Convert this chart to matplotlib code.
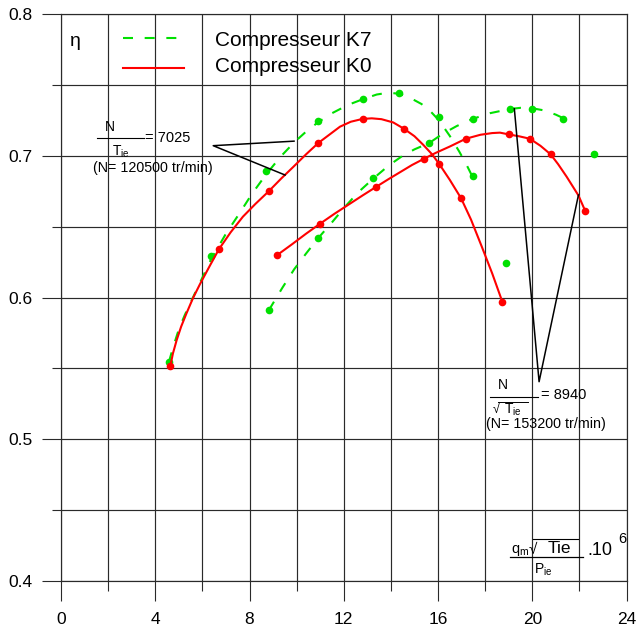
import matplotlib
matplotlib.use('Agg')
import matplotlib.pyplot as plt
from matplotlib.lines import Line2D
from matplotlib.ticker import MultipleLocator

plt.rcParams['font.family'] = ['Liberation Sans', 'DejaVu Sans']
plt.rcParams['mathtext.fontset'] = 'custom'
plt.rcParams['mathtext.rm'] = 'Liberation Sans'
plt.rcParams['mathtext.it'] = 'Liberation Sans'

# ---------------- data ----------------
# measured points
k7_a_x = [4.58, 6.37, 8.69, 10.90, 12.83, 14.36, 16.04, 17.47, 18.87]
k7_a_y = [0.5545, 0.629, 0.6895, 0.7245, 0.740, 0.744, 0.727, 0.686, 0.624]
k7_b_x = [8.82, 10.92, 13.26, 15.63, 17.47, 19.06, 20.00, 21.32, 22.62]
k7_b_y = [0.591, 0.642, 0.684, 0.709, 0.726, 0.733, 0.733, 0.726, 0.701]
k0_a_x = [4.64, 6.70, 8.82, 10.92, 12.80, 14.56, 16.06, 16.98, 18.73]
k0_a_y = [0.5517, 0.634, 0.675, 0.709, 0.726, 0.719, 0.694, 0.670, 0.597]
k0_b_x = [9.18, 10.99, 13.37, 15.42, 17.18, 19.02, 19.90, 20.78, 22.25]
k0_b_y = [0.630, 0.652, 0.678, 0.698, 0.712, 0.715, 0.712, 0.701, 0.661]

# drawn curves
k0_a_cx = [4.64, 4.75, 4.91, 5.1, 5.33, 5.6, 5.9, 6.32, 6.7, 7.2, 7.72, 8.25,
           8.82, 9.35, 9.85, 10.4, 10.92, 11.4, 11.84, 12.3, 12.8, 13.19, 13.6,
           14.1, 14.56, 15.0, 15.38, 15.75, 16.06, 16.5, 16.98, 17.4, 17.86,
           18.3, 18.73]
k0_a_cy = [0.5517, 0.5605, 0.570, 0.5795, 0.589, 0.5995, 0.6095, 0.6225, 0.634,
           0.646, 0.657, 0.666, 0.675, 0.684, 0.692, 0.701, 0.709, 0.715, 0.7205,
           0.724, 0.726, 0.7264, 0.7258, 0.7235, 0.719, 0.7138, 0.7076, 0.701,
           0.694, 0.683, 0.670, 0.655, 0.6358, 0.617, 0.597]
k0_b_cx = [9.18, 9.8, 10.4, 10.99, 11.6, 12.2, 12.8, 13.37, 13.9, 14.4, 14.9,
           15.42, 15.9, 16.5, 17.18, 17.8, 18.3, 18.63, 19.02, 19.45, 19.9, 20.35,
           20.78, 21.1, 21.46, 21.96, 22.25]
k0_b_cy = [0.630, 0.6375, 0.645, 0.652, 0.659, 0.6655, 0.672, 0.678, 0.6835,
           0.6885, 0.6935, 0.698, 0.702, 0.7065, 0.712, 0.7148, 0.716, 0.7163,
           0.715, 0.7137, 0.712, 0.707, 0.701, 0.694, 0.6852, 0.672, 0.661]
k7_a_cx = [4.58, 4.75, 5.0, 5.25, 5.5, 5.9, 6.37, 7.0, 7.6, 8.1, 8.69, 9.3, 9.9,
           10.4, 10.9, 11.5, 12.2, 12.83, 13.4, 13.9, 14.36, 14.8, 15.3, 15.7,
           16.04, 16.5, 16.9, 17.2, 17.47]
k7_a_cy = [0.5545, 0.5645, 0.5775, 0.5875, 0.5965, 0.6105, 0.627, 0.645, 0.660,
           0.673, 0.6865, 0.699, 0.7095, 0.717, 0.7235, 0.730, 0.736, 0.740,
           0.7432, 0.7445, 0.7437, 0.741, 0.7365, 0.731, 0.725, 0.714, 0.703,
           0.694, 0.685]
k7_b_cx = [8.82, 9.4, 9.9, 10.4, 10.92, 11.5, 12.0, 12.6, 13.26, 13.9, 14.5,
           15.0, 15.63, 16.2, 16.8, 17.47, 18.2, 19.06, 19.5, 20.0, 20.5, 21.0,
           21.32]
k7_b_cy = [0.591, 0.607, 0.620, 0.631, 0.642, 0.653, 0.663, 0.674, 0.684, 0.693,
           0.700, 0.7045, 0.709, 0.7155, 0.721, 0.726, 0.730, 0.733, 0.7338,
           0.7335, 0.732, 0.729, 0.7265]

# annotation leader lines
ann1_x = [9.89, 6.46, 9.51]
ann1_y = [0.7103, 0.7071, 0.6864]
ann2_x = [19.24, 20.29, 21.96]
ann2_y = [0.7332, 0.5406, 0.6723]

x_major = [0, 4, 8, 12, 16, 20, 24]
x_labels = ['0', '4', '8', '12', '16', '20', '24']
y_major = [0.4, 0.5, 0.6, 0.7, 0.8]
y_labels = ['0.4', '0.5', '0.6', '0.7', '0.8']

# ---------------- figure ----------------
W, H = 638, 631
fig = plt.figure(figsize=(W / 100, H / 100), dpi=100)
ax = fig.add_axes([61 / W, 1 - 581 / H, (626.5 - 61) / W, (581 - 14) / H])
ax.set_xlim(0, 24)
ax.set_ylim(0.4, 0.8)

GRID = '#2a2a2a'
ax.set_xticks(x_major)
ax.set_xticklabels(x_labels)
ax.set_yticks(y_major)
ax.set_yticklabels(y_labels)
ax.xaxis.set_minor_locator(MultipleLocator(2))
ax.yaxis.set_minor_locator(MultipleLocator(0.05))
ax.grid(which='both', color=GRID, lw=0.85)
ax.tick_params(axis='x', which='major', length=14.5, width=0.8, color=GRID,
               labelsize=12.5, pad=8)
ax.tick_params(axis='x', which='minor', length=7.2, width=0.8, color=GRID)
ax.tick_params(axis='y', which='major', length=13.7, width=0.8, color=GRID,
               labelsize=12.5, pad=6.5)
ax.tick_params(axis='y', which='minor', length=6.5, width=0.8, color=GRID)
for s in ax.spines.values():
    s.set_color(GRID)
    s.set_linewidth(0.85)
ax.set_axisbelow(True)

GREEN = '#00e000'
RED = '#ff0000'
DASH = (4.8, 5.6)

ax.plot(k7_a_cx, k7_a_cy, color=GREEN, lw=1.5, dashes=DASH)
ax.plot(k7_b_cx, k7_b_cy, color=GREEN, lw=1.5, dashes=DASH)
ax.plot(k7_a_x, k7_a_y, 'o', color=GREEN, ms=5.5, mec='none')
ax.plot(k7_b_x, k7_b_y, 'o', color=GREEN, ms=5.5, mec='none')
ax.plot(k0_a_cx, k0_a_cy, color=RED, lw=1.5)
ax.plot(k0_b_cx, k0_b_cy, color=RED, lw=1.5)
ax.plot(k0_a_x, k0_a_y, 'o', color=RED, ms=5.5, mec='none')
ax.plot(k0_b_x, k0_b_y, 'o', color=RED, ms=5.5, mec='none')

ax.plot(ann1_x, ann1_y, color='black', lw=1.1)
ax.plot(ann2_x, ann2_y, color='black', lw=1.1)


def ftext(px, py, s, **kw):
    fig.text(px / W, 1 - py / H, s, **kw)


def fline(x0, y0, x1, y1, **kw):
    kw.setdefault('color', 'black')
    kw.setdefault('lw', 0.8)
    fig.add_artist(Line2D([x0 / W, x1 / W], [1 - y0 / H, 1 - y1 / H],
                          transform=fig.transFigure, **kw))


# legend
ftext(75, 41, 'η', fontsize=14, ha='center', va='center')
fline(123, 38, 177, 38, color=GREEN, lw=1.5, dashes=DASH)
fline(123, 68, 184, 68, color=RED, lw=1.5)
ftext(215, 40, 'Compresseur K7', fontsize=15, ha='left', va='center')
ftext(215, 66, 'Compresseur K0', fontsize=15, ha='left', va='center')

# left annotation
ftext(110, 127, 'N', fontsize=10, ha='center', va='center')
fline(96.7, 138.3, 144, 138.3)
ftext(145, 138, '= 7025', fontsize=10.5, ha='left', va='center')
ftext(121, 151.5, r'$\mathregular{T_{ie}}$', fontsize=10, ha='center', va='center')
ftext(152.5, 168, '(N= 120500 tr/min)', fontsize=10.3, ha='center', va='center')

# right annotation
ftext(503, 385, 'N', fontsize=10, ha='center', va='center')
fline(490, 397, 538, 397)
ftext(541, 395, '= 8940', fontsize=10.5, ha='left', va='center')
ftext(496, 410, '√', fontsize=9, ha='center', va='center')
ftext(512.5, 410, r'$\mathregular{T_{ie}}$', fontsize=10, ha='center', va='center')
fline(498, 402, 528, 402, lw=0.7)
ftext(545.5, 424, '(N= 153200 tr/min)', fontsize=10.3, ha='center', va='center')

# x axis label
ftext(511, 553, r'$\mathregular{q_m}$', fontsize=10.5, ha='left', va='baseline')
ftext(533, 553, '√', fontsize=11, ha='center', va='baseline')
ftext(548, 553, 'Tie', fontsize=12.5, ha='left', va='baseline')
fline(533, 538.5, 578, 538.5, lw=0.8)
fline(510, 556.7, 583, 556.7, lw=0.9)
ftext(534, 570, r'$\mathregular{P_{ie}}$', fontsize=10, ha='left', va='center')
ftext(587, 555, '.10', fontsize=13, ha='left', va='baseline')
ftext(618, 539, '6', fontsize=10.5, ha='left', va='center')

fig.savefig('out.png', dpi=100)
